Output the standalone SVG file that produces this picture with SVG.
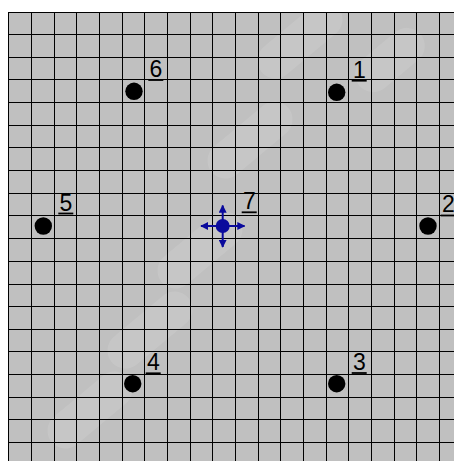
<svg xmlns="http://www.w3.org/2000/svg" width="454" height="461" viewBox="0 0 454 461">
<style>
.grid{stroke:#000;stroke-width:1;fill:none;shape-rendering:crispEdges}
.pt{fill:#000}
.lbl{font-family:"Liberation Sans",Arial,sans-serif;font-size:23px;fill:#000}
.ul{stroke:#000;stroke-width:1.8}
.wm{fill:#ffffff;opacity:0.1}
.cross{stroke:#0a0a9c;stroke-width:2;fill:none}
</style>
<defs>
<marker id="ah" viewBox="0 0 10 10" refX="9" refY="5" markerWidth="8" markerHeight="8" markerUnits="userSpaceOnUse" orient="auto">
<path d="M0,0 L10,5 L0,10 z" fill="#0a0a9c"/>
</marker>
</defs>
<rect x="0" y="0" width="454" height="461" fill="#ffffff"/>
<rect x="8" y="12" width="446" height="449" fill="#c0c0c0"/>
<g id="watermark">
<rect class="wm" x="-18" y="-50" width="36" height="100" rx="18" transform="translate(300,40) rotate(50)"/>
<rect class="wm" x="-18" y="-40" width="36" height="80" rx="18" transform="translate(390,60) rotate(50)"/>
<rect class="wm" x="-18" y="-50" width="36" height="100" rx="18" transform="translate(250,140) rotate(50)"/>
<rect class="wm" x="-18" y="-50" width="36" height="100" rx="18" transform="translate(200,250) rotate(50)"/>
<rect class="wm" x="-18" y="-50" width="36" height="100" rx="18" transform="translate(150,330) rotate(50)"/>
<rect class="wm" x="-18" y="-50" width="36" height="100" rx="18" transform="translate(90,410) rotate(50)"/>
</g>
<g id="grid" class="grid">
<path d="M8.5,12V461M31.5,12V461M54.5,12V461M76.5,12V461M99.5,12V461M122.5,12V461M144.5,12V461M167.5,12V461M190.5,12V461M212.5,12V461M235.5,12V461M258.5,12V461M280.5,12V461M303.5,12V461M326.5,12V461M348.5,12V461M371.5,12V461M394.5,12V461M416.5,12V461M439.5,12V461"/>
<path d="M8,12.5H454M8,34.5H454M8,57.5H454M8,79.5H454M8,102.5H454M8,125.5H454M8,147.5H454M8,170.5H454M8,193.5H454M8,215.5H454M8,238.5H454M8,261.5H454M8,284.5H454M8,306.5H454M8,329.5H454M8,351.5H454M8,374.5H454M8,397.5H454M8,419.5H454M8,442.5H454"/>
</g>
<g id="connectors"></g>
<g id="p1"><circle class="pt" cx="336.7" cy="92.3" r="8.7"/><text class="lbl" x="353" y="77.5">1</text><line class="ul" x1="351.7" y1="80.7" x2="366.7" y2="80.7"/></g>
<g id="p2"><circle class="pt" cx="428" cy="226" r="8.7"/><text class="lbl" x="442" y="212">2</text><line class="ul" x1="440.7" y1="215.5" x2="455.7" y2="215.5"/></g>
<g id="p3"><circle class="pt" cx="336.7" cy="383.7" r="8.7"/><text class="lbl" x="353" y="370">3</text><line class="ul" x1="351.7" y1="373" x2="366.7" y2="373"/></g>
<g id="p4"><circle class="pt" cx="132.7" cy="383.7" r="8.7"/><text class="lbl" x="147" y="370">4</text><line class="ul" x1="145.7" y1="373.3" x2="160.7" y2="373.3"/></g>
<g id="p5"><circle class="pt" cx="43.3" cy="226" r="8.7"/><text class="lbl" x="59.6" y="210.5">5</text><line class="ul" x1="58.3" y1="213.5" x2="73.3" y2="213.5"/></g>
<g id="p6"><circle class="pt" cx="134" cy="91.3" r="8.7"/><text class="lbl" x="149.6" y="77">6</text><line class="ul" x1="148.3" y1="80" x2="163.3" y2="80"/></g>
<g id="p7">
<line class="cross" x1="222.7" y1="226" x2="201" y2="226" marker-end="url(#ah)"/>
<line class="cross" x1="222.7" y1="226" x2="244.5" y2="226" marker-end="url(#ah)"/>
<line class="cross" x1="222.7" y1="226" x2="222.7" y2="205.5" marker-end="url(#ah)"/>
<line class="cross" x1="222.7" y1="226" x2="222.7" y2="247" marker-end="url(#ah)"/>
<circle cx="222.7" cy="226" r="7" fill="#0a0a9c"/>
<text class="lbl" x="243" y="209.3">7</text><line class="ul" x1="241.7" y1="212.3" x2="256.7" y2="212.3"/>
</g>
</svg>
